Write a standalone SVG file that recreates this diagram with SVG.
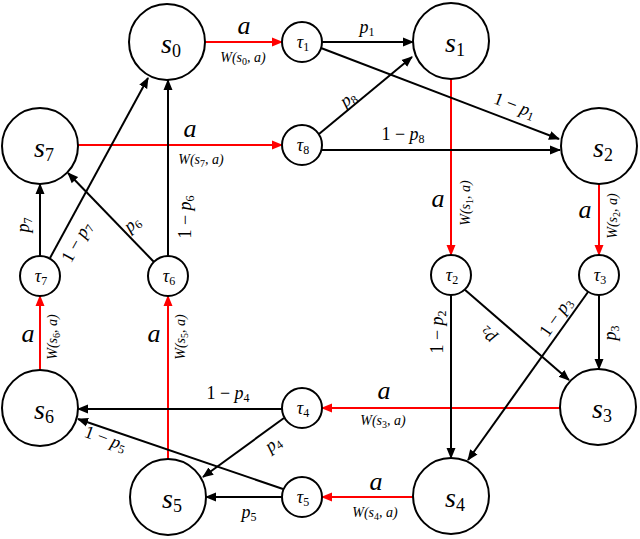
<svg xmlns="http://www.w3.org/2000/svg" width="640" height="539" viewBox="0 0 640 539" font-family="Liberation Serif">
<defs>
<marker id="ab" markerWidth="12" markerHeight="10" refX="10" refY="5" orient="auto" markerUnits="userSpaceOnUse"><path d="M0,0.5 L11,5 L0,9.5 z" fill="#000" stroke="none"/></marker>
<marker id="ar" markerWidth="12" markerHeight="10" refX="10" refY="5" orient="auto" markerUnits="userSpaceOnUse"><path d="M0,0.5 L11,5 L0,9.5 z" fill="#f00" stroke="none"/></marker>
</defs>
<g id="connectors" fill="none" stroke-width="2">
<g stroke="#f00" marker-end="url(#ar)">
<line x1="205" y1="42" x2="282" y2="42"/>
<line x1="78" y1="145" x2="282" y2="145"/>
<line x1="451" y1="79" x2="451" y2="255"/>
<line x1="599" y1="184" x2="599" y2="255"/>
<line x1="560" y1="408" x2="322" y2="408"/>
<line x1="413" y1="497" x2="322" y2="497"/>
<line x1="168" y1="459" x2="168" y2="296"/>
<line x1="40" y1="370" x2="40" y2="296"/>
</g>
<g stroke="#000" marker-end="url(#ab)">
<line x1="322" y1="42" x2="413" y2="42"/>
<line x1="321" y1="48" x2="559" y2="139"/>
<line x1="319" y1="134" x2="412" y2="57"/>
<line x1="321" y1="150" x2="560" y2="150"/>
<line x1="451" y1="295" x2="451" y2="458"/>
<line x1="464" y1="289" x2="569" y2="380"/>
<line x1="599" y1="295" x2="599" y2="369"/>
<line x1="588" y1="292" x2="468" y2="460"/>
<line x1="282" y1="409" x2="78" y2="409"/>
<line x1="284" y1="418" x2="203" y2="477"/>
<line x1="283" y1="489" x2="78" y2="419"/>
<line x1="282" y1="497" x2="206" y2="497"/>
<line x1="168" y1="256" x2="168" y2="80"/>
<line x1="154" y1="262" x2="68" y2="173"/>
<line x1="40" y1="256" x2="40" y2="184"/>
<line x1="50" y1="258" x2="148" y2="78"/>
</g>
</g>
<g id="edge-labels" font-family="Liberation Serif" font-style="italic" text-anchor="middle" fill="#000">
<g font-size="26">
<text x="244" y="34">a</text>
<text x="190" y="137">a</text>
<text x="438" y="207">a</text>
<text x="585" y="218">a</text>
<text x="384" y="399">a</text>
<text x="376" y="490">a</text>
<text x="154" y="342">a</text>
<text x="28" y="342">a</text>
</g>
<g font-size="14">
<text x="243" y="62">W(s<tspan font-style="normal" font-size="10" dy="3">0</tspan><tspan dy="-3">, a)</tspan></text>
<text x="201" y="164">W(s<tspan font-style="normal" font-size="10" dy="3">7</tspan><tspan dy="-3">, a)</tspan></text>
<text transform="translate(470,203) rotate(-90)">W(s<tspan font-style="normal" font-size="10" dy="3">1</tspan><tspan dy="-3">, a)</tspan></text>
<text transform="translate(617,216) rotate(-90)">W(s<tspan font-style="normal" font-size="10" dy="3">2</tspan><tspan dy="-3">, a)</tspan></text>
<text x="383" y="425">W(s<tspan font-style="normal" font-size="10" dy="3">3</tspan><tspan dy="-3">, a)</tspan></text>
<text x="375" y="517">W(s<tspan font-style="normal" font-size="10" dy="3">4</tspan><tspan dy="-3">, a)</tspan></text>
<text transform="translate(185,337) rotate(-90)">W(s<tspan font-style="normal" font-size="10" dy="3">5</tspan><tspan dy="-3">, a)</tspan></text>
<text transform="translate(57,337) rotate(-90)">W(s<tspan font-style="normal" font-size="10" dy="3">6</tspan><tspan dy="-3">, a)</tspan></text>
</g>
<g font-size="18">
<text x="367" y="33">p<tspan font-style="normal" font-size="12" dy="3">1</tspan></text>
<text transform="translate(514,107) rotate(21)" y="4"><tspan font-style="normal">1 − </tspan>p<tspan font-style="normal" font-size="12" dy="3">1</tspan></text>
<text transform="translate(349,100) rotate(-36)" y="4">p<tspan font-style="normal" font-size="12" dy="3">8</tspan></text>
<text x="403" y="140"><tspan font-style="normal">1 − </tspan>p<tspan font-style="normal" font-size="12" dy="3">8</tspan></text>
<text transform="translate(443,332) rotate(-90)"><tspan font-style="normal">1 − </tspan>p<tspan font-style="normal" font-size="12" dy="3">2</tspan></text>
<text transform="translate(488,335) rotate(220)" y="4">p<tspan font-style="normal" font-size="12" dy="3">2</tspan></text>
<text transform="translate(557,318) rotate(-55)" y="4"><tspan font-style="normal">1 − </tspan>p<tspan font-style="normal" font-size="12" dy="3">3</tspan></text>
<text transform="translate(616,333) rotate(-90)">p<tspan font-style="normal" font-size="12" dy="3">3</tspan></text>
<text x="228" y="399"><tspan font-style="normal">1 − </tspan>p<tspan font-style="normal" font-size="12" dy="3">4</tspan></text>
<text transform="translate(274,445) rotate(-36)" y="4">p<tspan font-style="normal" font-size="12" dy="3">4</tspan></text>
<text transform="translate(105,440) rotate(20)" y="4"><tspan font-style="normal">1 − </tspan>p<tspan font-style="normal" font-size="12" dy="3">5</tspan></text>
<text x="249" y="518">p<tspan font-style="normal" font-size="12" dy="3">5</tspan></text>
<text transform="translate(191,217) rotate(-90)"><tspan font-style="normal">1 − </tspan>p<tspan font-style="normal" font-size="12" dy="3">6</tspan></text>
<text transform="translate(133,225) rotate(-40)" y="4">p<tspan font-style="normal" font-size="12" dy="3">6</tspan></text>
<text transform="translate(29,225) rotate(-90)">p<tspan font-style="normal" font-size="12" dy="3">7</tspan></text>
<text transform="translate(78,243) rotate(-61)" y="4"><tspan font-style="normal">1 − </tspan>p<tspan font-style="normal" font-size="12" dy="3">7</tspan></text>
</g>
</g>
<g id="nodes" font-family="Liberation Serif" font-style="italic" text-anchor="middle">
<g id="s0"><circle cx="167" cy="42" r="38" fill="#fff" stroke="#000" stroke-width="2"/><text x="171" y="53" font-size="28">s<tspan font-style="normal" font-size="18" dy="4">0</tspan></text></g>
<g id="s1"><circle cx="451" cy="41" r="38" fill="#fff" stroke="#000" stroke-width="2"/><text x="455" y="52" font-size="28">s<tspan font-style="normal" font-size="18" dy="4">1</tspan></text></g>
<g id="s2"><circle cx="599" cy="146" r="38" fill="#fff" stroke="#000" stroke-width="2"/><text x="603" y="157" font-size="28">s<tspan font-style="normal" font-size="18" dy="4">2</tspan></text></g>
<g id="s3"><circle cx="598" cy="407" r="38" fill="#fff" stroke="#000" stroke-width="2"/><text x="602" y="418" font-size="28">s<tspan font-style="normal" font-size="18" dy="4">3</tspan></text></g>
<g id="s4"><circle cx="451" cy="496" r="38" fill="#fff" stroke="#000" stroke-width="2"/><text x="455" y="507" font-size="28">s<tspan font-style="normal" font-size="18" dy="4">4</tspan></text></g>
<g id="s5"><circle cx="168" cy="497" r="38" fill="#fff" stroke="#000" stroke-width="2"/><text x="172" y="508" font-size="28">s<tspan font-style="normal" font-size="18" dy="4">5</tspan></text></g>
<g id="s6"><circle cx="40" cy="408" r="38" fill="#fff" stroke="#000" stroke-width="2"/><text x="44" y="419" font-size="28">s<tspan font-style="normal" font-size="18" dy="4">6</tspan></text></g>
<g id="s7"><circle cx="40" cy="146" r="38" fill="#fff" stroke="#000" stroke-width="2"/><text x="44" y="157" font-size="28">s<tspan font-style="normal" font-size="18" dy="4">7</tspan></text></g>
<g id="t1"><circle cx="302" cy="42" r="20" fill="#fff" stroke="#000" stroke-width="2"/><text x="303" y="48" font-size="18">τ<tspan font-style="normal" font-size="12" dy="3">1</tspan></text></g>
<g id="t2"><circle cx="451" cy="275" r="20" fill="#fff" stroke="#000" stroke-width="2"/><text x="452" y="281" font-size="18">τ<tspan font-style="normal" font-size="12" dy="3">2</tspan></text></g>
<g id="t3"><circle cx="599" cy="275" r="20" fill="#fff" stroke="#000" stroke-width="2"/><text x="600" y="281" font-size="18">τ<tspan font-style="normal" font-size="12" dy="3">3</tspan></text></g>
<g id="t4"><circle cx="302" cy="408" r="20" fill="#fff" stroke="#000" stroke-width="2"/><text x="303" y="414" font-size="18">τ<tspan font-style="normal" font-size="12" dy="3">4</tspan></text></g>
<g id="t5"><circle cx="302" cy="497" r="20" fill="#fff" stroke="#000" stroke-width="2"/><text x="303" y="503" font-size="18">τ<tspan font-style="normal" font-size="12" dy="3">5</tspan></text></g>
<g id="t6"><circle cx="168" cy="276" r="20" fill="#fff" stroke="#000" stroke-width="2"/><text x="169" y="282" font-size="18">τ<tspan font-style="normal" font-size="12" dy="3">6</tspan></text></g>
<g id="t7"><circle cx="40" cy="276" r="20" fill="#fff" stroke="#000" stroke-width="2"/><text x="41" y="282" font-size="18">τ<tspan font-style="normal" font-size="12" dy="3">7</tspan></text></g>
<g id="t8"><circle cx="302" cy="145" r="20" fill="#fff" stroke="#000" stroke-width="2"/><text x="303" y="151" font-size="18">τ<tspan font-style="normal" font-size="12" dy="3">8</tspan></text></g>
</g>
</svg>
